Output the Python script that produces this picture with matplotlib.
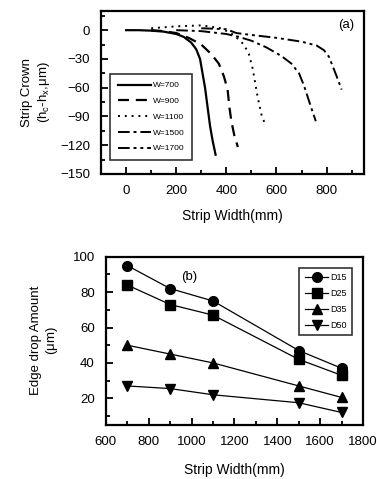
import numpy as np
import matplotlib
matplotlib.use('Agg')
import matplotlib.pyplot as plt
from matplotlib.ticker import MultipleLocator

plt.rcParams['font.family'] = ['Liberation Sans', 'DejaVu Sans']
plt.rcParams['mathtext.fontset'] = 'custom'
plt.rcParams['mathtext.rm'] = 'Liberation Sans'
plt.rcParams['mathtext.it'] = 'Liberation Sans'

# (a) strip crown profiles
x700 = [0, 50, 100, 150, 200, 230, 260, 280, 295, 305, 315, 325, 335, 345, 357]
y700 = [0, 0, -0.5, -1.5, -4, -7, -13, -20, -30, -45, -60, -80, -100, -115, -130]
x900 = [100, 150, 200, 250, 300, 340, 370, 390, 405, 412, 420, 432, 446]
y900 = [0, -1, -3, -8, -15, -25, -35, -48, -62, -80, -95, -110, -122]
x1100 = [100, 200, 300, 380, 430, 470, 490, 505, 515, 525, 540, 553]
y1100 = [2, 4, 5, 2, -5, -15, -25, -40, -55, -70, -88, -97]
x1500 = [200, 300, 400, 450, 500, 560, 620, 660, 690, 710, 725, 740, 757]
y1500 = [0, -1, -4, -7, -11, -18, -27, -35, -45, -58, -70, -82, -95]
x1700 = [300, 400, 440, 500, 600, 700, 760, 790, 810, 825, 840, 860]
y1700 = [2, 1, -3, -5, -8, -12, -16, -21, -28, -38, -48, -62]

# (b) edge drop amount
width = [700, 900, 1100, 1500, 1700]
d15 = [95, 82, 75, 47, 37]
d25 = [84, 73, 67, 42, 33]
d35 = [50, 45, 40, 27, 20.5]
d50 = [27, 25.5, 22, 17.5, 12]

fig = plt.figure(figsize=(3.77, 4.79), dpi=100)
fs = 9.5

ax1 = fig.add_axes([0.268, 0.637, 0.698, 0.340])
ax1.plot(x700, y700, color='k', lw=1.6, ls='-', label='W=700')
ax1.plot(x900, y900, color='k', lw=1.6, ls=(0, (5, 3)), label='W=900')
ax1.plot(x1100, y1100, color='k', lw=1.4, ls=(0, (1, 2.5)), label='W=1100')
ax1.plot(x1500, y1500, color='k', lw=1.4, ls=(0, (6, 2, 1.5, 2)), label='W=1500')
ax1.plot(x1700, y1700, color='k', lw=1.4, ls=(0, (6, 2, 1.5, 2, 1.5, 2)), label='W=1700')
ax1.set_xlim(-100, 950)
ax1.set_ylim(-150, 20)
ax1.xaxis.set_major_locator(MultipleLocator(200))
ax1.xaxis.set_minor_locator(MultipleLocator(100))
ax1.yaxis.set_major_locator(MultipleLocator(30))
ax1.yaxis.set_minor_locator(MultipleLocator(15))
ax1.set_xticks([0, 200, 400, 600, 800])
ax1.text(880, 5, '(a)', fontsize=fs, ha='center', va='center')
ax1.set_xlabel('Strip Width(mm)', fontsize=fs + 0.5, labelpad=9)
ax1.set_ylabel('Strip Crown\n(h$_c$-h$_x$,$\\mu$m)', fontsize=fs, labelpad=6)
leg1 = ax1.legend(loc='lower left', bbox_to_anchor=(0.02, 0.06), fontsize=6,
                  frameon=True, fancybox=False, edgecolor='k', handlelength=4,
                  handletextpad=0.2, labelspacing=0.95, borderpad=0.9)
leg1.get_frame().set_linewidth(1.2)

ax2 = fig.add_axes([0.281, 0.113, 0.682, 0.351])
ax2.plot(width, d15, color='k', lw=0.9, marker='o', ms=7, label='D15')
ax2.plot(width, d25, color='k', lw=0.9, marker='s', ms=7, label='D25')
ax2.plot(width, d35, color='k', lw=0.9, marker='^', ms=7, label='D35')
ax2.plot(width, d50, color='k', lw=0.9, marker='v', ms=7, label='D50')
ax2.set_xlim(600, 1800)
ax2.set_ylim(5, 100)
ax2.xaxis.set_major_locator(MultipleLocator(200))
ax2.xaxis.set_minor_locator(MultipleLocator(100))
ax2.yaxis.set_major_locator(MultipleLocator(20))
ax2.yaxis.set_minor_locator(MultipleLocator(10))
ax2.set_yticks([20, 40, 60, 80, 100])
ax2.text(990, 88.5, '(b)', fontsize=fs, ha='center', va='center')
ax2.set_xlabel('Strip Width(mm)', fontsize=fs + 0.5, labelpad=11)
ax2.set_ylabel('Edge drop Amount\n($\\mu$m)', fontsize=fs, labelpad=9)
leg2 = ax2.legend(loc='upper right', bbox_to_anchor=(0.975, 0.96), fontsize=6.5,
                  frameon=True, fancybox=False, edgecolor='k', handlelength=2.6,
                  handletextpad=0.2, labelspacing=0.75, borderpad=0.6)
leg2.get_frame().set_linewidth(1.2)

for ax in (ax1, ax2):
    for s in ax.spines.values():
        s.set_linewidth(1.6)
    ax.tick_params(which='both', direction='in', top=False, right=False,
                   labelsize=fs, width=1.3)
    ax.tick_params(which='major', length=5, pad=8)
    ax.tick_params(which='minor', length=3)

fig.savefig('out.png', dpi=100)
